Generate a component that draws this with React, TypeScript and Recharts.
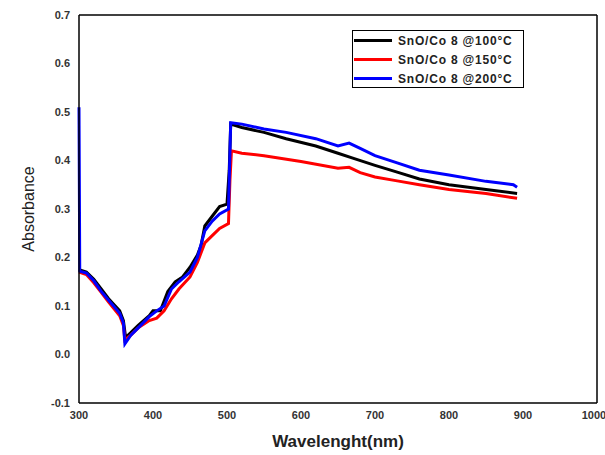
import React from "react";
import { LineChart, Line, XAxis, YAxis, ReferenceLine, Label } from "recharts";

const xTicks = [300, 400, 500, 600, 700, 800, 900, 1000];
const yTicks = [-0.1, 0, 0.1, 0.2, 0.3, 0.4, 0.5, 0.6, 0.7];

const black100 = [
  [300, 0.175], [310, 0.17], [320, 0.155], [330, 0.135], [340, 0.115], [355, 0.09],
  [360, 0.07], [363, 0.035], [370, 0.045], [380, 0.06], [395, 0.08], [400, 0.09],
  [410, 0.09], [420, 0.13], [430, 0.15], [440, 0.16], [450, 0.18], [460, 0.205],
  [465, 0.225], [470, 0.265], [480, 0.285], [490, 0.305], [500, 0.31], [503, 0.38],
  [505, 0.475], [520, 0.468], [550, 0.458], [580, 0.445], [620, 0.43], [650, 0.415],
  [670, 0.405], [700, 0.39], [730, 0.376], [760, 0.362], [800, 0.35], [850, 0.34],
  [892, 0.332],
];

const red150 = [
  [300, 0.17], [310, 0.165], [320, 0.148], [330, 0.128], [340, 0.108], [355, 0.08],
  [360, 0.06], [362, 0.03], [370, 0.04], [380, 0.055], [395, 0.07], [405, 0.075],
  [415, 0.09], [425, 0.115], [435, 0.135], [450, 0.16], [460, 0.19], [470, 0.23],
  [480, 0.245], [490, 0.26], [502, 0.27], [504, 0.36], [506, 0.42], [520, 0.415],
  [550, 0.41], [600, 0.398], [650, 0.384], [665, 0.386], [680, 0.375], [700, 0.366],
  [730, 0.358], [760, 0.35], [800, 0.34], [850, 0.332], [892, 0.322],
];

const blue200 = [
  [300, 0.51], [301, 0.172], [310, 0.168], [320, 0.152], [330, 0.13], [340, 0.112],
  [355, 0.085], [360, 0.065], [362, 0.022], [370, 0.04], [380, 0.055], [395, 0.078],
  [405, 0.09], [415, 0.1], [425, 0.135], [435, 0.15], [450, 0.17], [460, 0.2],
  [470, 0.255], [480, 0.275], [490, 0.29], [502, 0.3], [505, 0.478], [520, 0.475],
  [550, 0.465], [580, 0.458], [620, 0.445], [650, 0.43], [665, 0.436], [680, 0.425],
  [700, 0.41], [730, 0.395], [760, 0.38], [800, 0.37], [850, 0.357], [887, 0.35],
  [892, 0.345],
];

const seriesNames = ["SnO/Co 8 @100°C", "SnO/Co 8 @150°C", "SnO/Co 8 @200°C"];
const seriesColors = ["#000000", "#ff0000", "#0000ff"];

const toRows = (pts: number[][]) => pts.map(([x, y]) => ({ x, y }));

const tickStyle = {
  fontFamily: "'Liberation Sans', Arial, sans-serif",
  fontSize: 11,
  fontWeight: "bold" as const,
  fill: "#333",
};

function LegendBox() {
  return (
    <div
      style={{
        position: "absolute",
        left: 352,
        top: 30,
        width: 172,
        height: 58,
        boxSizing: "border-box",
        border: "1.5px solid #000",
        background: "#fff",
        padding: "0 0 0 1px",
        fontFamily: "'Liberation Sans', Arial, sans-serif",
        fontSize: 12,
        letterSpacing: 0.8,
        fontWeight: "bold",
        color: "#222",
      }}
    >
      {seriesNames.map((n, i) => (
        <div key={n} style={{ display: "flex", alignItems: "center", height: 19 }}>
          <div style={{ width: 38, height: 3, background: seriesColors[i], marginRight: 6 }} />
          <span>{n}</span>
        </div>
      ))}
    </div>
  );
}

export default function App() {
  return (
    <div style={{ position: "absolute", left: 0, top: 0, width: 605, height: 455 }}>
      <LineChart width={605} height={455} margin={{ top: 15, right: 8, left: 0, bottom: 0 }}>
        <XAxis
          type="number"
          dataKey="x"
          domain={[300, 1000]}
          ticks={xTicks}
          tickLine={false}
          tickSize={0}
          tickMargin={8}
          height={52}
          allowDuplicatedCategory={false}
          stroke="#000"
          strokeWidth={1.5}
          tick={tickStyle}
        >
          <Label
            value="Wavelenght(nm)"
            position="insideBottom"
            offset={8}
            style={{
              fontFamily: "'Liberation Sans', Arial, sans-serif",
              fontSize: 17,
              fontWeight: "bold",
              fill: "#222",
            }}
          />
        </XAxis>
        <YAxis
          type="number"
          domain={[-0.1, 0.7]}
          ticks={yTicks}
          tickFormatter={(v: number) => v.toFixed(1)}
          tickLine={false}
          tickSize={0}
          tickMargin={9}
          width={79}
          stroke="#000"
          strokeWidth={1.5}
          tick={tickStyle}
        >
          <Label
            value="Absorbance"
            angle={-90}
            position="insideLeft"
            offset={28}
            style={{
              fontFamily: "'Liberation Sans', Arial, sans-serif",
              fontSize: 16,
              fill: "#222",
              textAnchor: "middle",
            }}
          />
        </YAxis>
        <ReferenceLine y={0.7} stroke="#000" strokeWidth={1.5} />
        <ReferenceLine x={1000} stroke="#000" strokeWidth={1.5} />
        <Line
          data={toRows(black100)}
          dataKey="y"
          name={seriesNames[0]}
          stroke={seriesColors[0]}
          strokeWidth={3}
          dot={false}
          isAnimationActive={false}
        />
        <Line
          data={toRows(red150)}
          dataKey="y"
          name={seriesNames[1]}
          stroke={seriesColors[1]}
          strokeWidth={3}
          dot={false}
          isAnimationActive={false}
        />
        <Line
          data={toRows(blue200)}
          dataKey="y"
          name={seriesNames[2]}
          stroke={seriesColors[2]}
          strokeWidth={3}
          dot={false}
          isAnimationActive={false}
        />
      </LineChart>
      <LegendBox />
    </div>
  );
}
